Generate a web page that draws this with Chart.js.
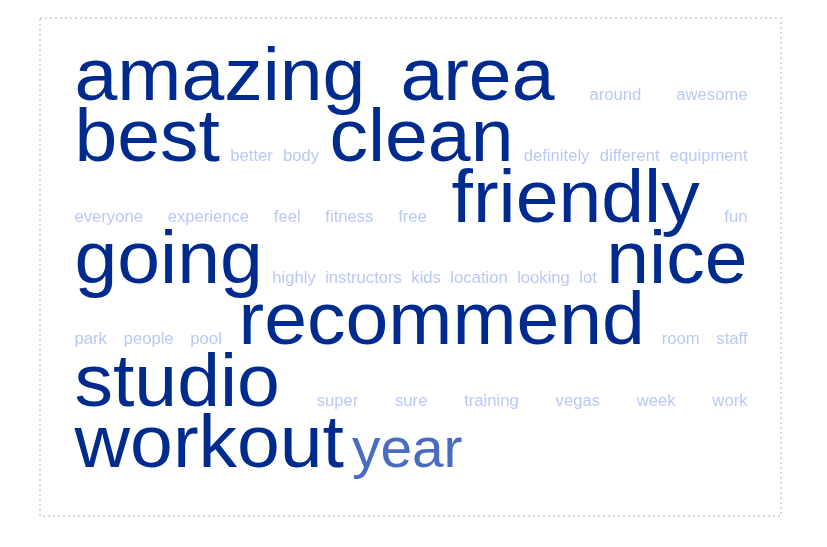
<!DOCTYPE html>
<html>
<head>
<meta charset="utf-8">
<script src="https://cdn.jsdelivr.net/npm/chart.js@4.4.1/dist/chart.umd.min.js"></script>
<style>
html,body{margin:0;padding:0;background:#fff;}
#wrap{position:relative;width:827px;height:547px;}
</style>
</head>
<body>
<div id="wrap"><canvas id="c"></canvas></div>
<script>
// ---- data ----
const words = ["amazing","area","around","awesome","best","better","body","clean",
  "definitely","different","equipment","everyone","experience","feel","fitness","free",
  "friendly","fun","going","highly","instructors","kids","location","looking","lot","nice",
  "park","people","pool","recommend","room","staff","studio","super","sure","training",
  "vegas","week","work","workout","year"];
const frequency = [4,4,1,1,4,1,1,4,
  1,1,1,1,1,1,1,1,
  4,1,4,1,1,1,1,1,1,4,
  1,1,1,4,1,1,4,1,1,1,
  1,1,1,4,3];

// ---- styling / layout constants ----
const FONT = '"Liberation Sans", Arial, Helvetica, sans-serif';
const minSize = 16, maxSize = 74;
const stretchX = 1.04;
const minF = 1, maxF = 4;
const colorFor = f => f >= 4 ? '#002b8e' : (f >= 3 ? '#4a6cc0' : '#bac8f6');
const sizeFor = f => minSize + (f - minF) * (maxSize - minSize) / (maxF - minF);
const areaLeft = 74.5, areaRight = 747.5, firstBase = 100, rowPitch = 61.1;
const W = areaRight - areaLeft;
const minGap = 8;

// ---- flow layout (justified lines) ----
const mctx = document.createElement('canvas').getContext('2d');
const items = words.map((w, i) => {
  const s = sizeFor(frequency[i]);
  mctx.font = s + 'px ' + FONT;
  return { word: w, size: s, color: colorFor(frequency[i]), width: mctx.measureText(w).width * stretchX };
});
const lines = [];
let cur = [], curW = 0;
items.forEach(it => {
  const need = cur.length ? curW + minGap + it.width : it.width;
  if (cur.length && need > W) { lines.push(cur); cur = [it]; curW = it.width; }
  else { cur.push(it); curW = need; }
});
if (cur.length) lines.push(cur);
const points = [];
lines.forEach((ln, r) => {
  const total = ln.reduce((a, b) => a + b.width, 0);
  const last = r === lines.length - 1;
  const gap = (!last && ln.length > 1) ? (W - total) / (ln.length - 1) : minGap;
  let x = 0;
  ln.forEach(it => { points.push({ x: x, y: r, item: it }); x += it.width + gap; });
});
const nRows = lines.length;

const frame = {
  id: 'frame',
  beforeDraw(chart) {
    const ctx = chart.ctx;
    ctx.save();
    ctx.strokeStyle = '#d8d8d8';
    ctx.lineWidth = 2;
    ctx.setLineDash([2, 3]);
    ctx.strokeRect(40, 18, 741, 498);
    ctx.restore();
  }
};
const wordText = {
  id: 'wordText',
  afterDatasetsDraw(chart) {
    const ctx = chart.ctx;
    const meta = chart.getDatasetMeta(0);
    meta.data.forEach((el, i) => {
      const it = points[i].item;
      ctx.save();
      ctx.textAlign = 'left';
      ctx.textBaseline = 'alphabetic';
      ctx.font = it.size + 'px ' + FONT;
      ctx.fillStyle = it.color;
      ctx.translate(el.x, el.y);
      ctx.scale(stretchX, 1);
      ctx.fillText(it.word, 0, 0);
      ctx.restore();
    });
  }
};

new Chart(document.getElementById('c'), {
  type: 'scatter',
  data: { datasets: [{ data: points.map(p => ({ x: p.x, y: p.y })), pointRadius: 0, pointHoverRadius: 0 }] },
  options: {
    responsive: true, maintainAspectRatio: false, animation: false,
    layout: { padding: { left: areaLeft, right: 827 - areaRight, top: firstBase, bottom: 547 - (firstBase + rowPitch * (nRows - 1)) } },
    scales: {
      x: { type: 'linear', min: 0, max: W, display: false },
      y: { type: 'linear', min: 0, max: nRows - 1, reverse: true, display: false }
    },
    plugins: { legend: { display: false }, tooltip: { enabled: false } },
    events: []
  },
  plugins: [frame, wordText]
});
</script>
</body>
</html>
